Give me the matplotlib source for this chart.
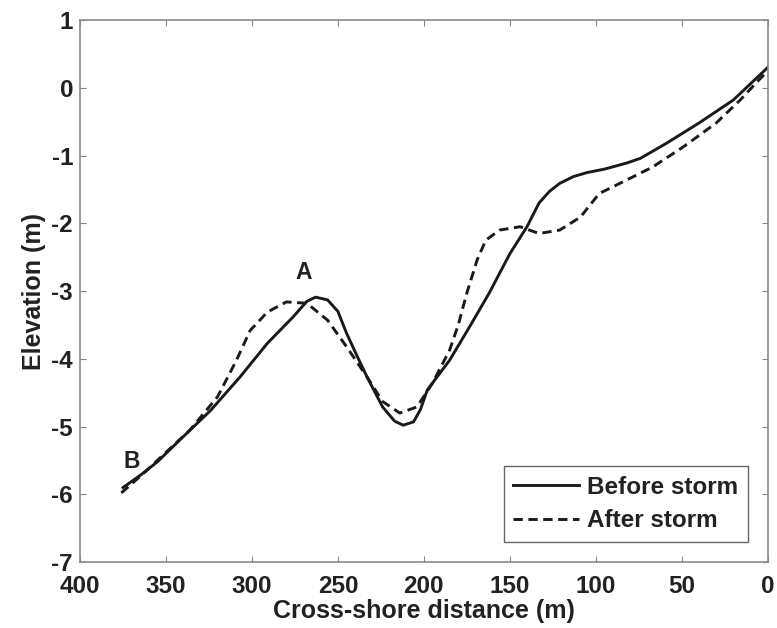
import numpy as np
import matplotlib
matplotlib.use('Agg')
import matplotlib.pyplot as plt

plt.rcParams['font.family'] = ['Liberation Sans', 'DejaVu Sans']
plt.rcParams['font.weight'] = 'bold'
plt.rcParams['axes.unicode_minus'] = False

# profile before the storm (distance m, elevation m)
before_x = [375, 365, 355, 340, 324, 307, 291, 276, 268, 263, 256, 250, 245, 239, 233, 224,
            217, 212, 206, 202, 198, 185, 173, 162, 150, 140, 133, 127, 121, 113, 105, 95,
            82, 74, 59, 40, 20, 0]
before_z = [-5.90, -5.72, -5.52, -5.15, -4.76, -4.27, -3.77, -3.38, -3.15, -3.09, -3.13, -3.30,
            -3.62, -3.95, -4.27, -4.71, -4.92, -4.98, -4.93, -4.75, -4.46, -4.02, -3.51, -3.03,
            -2.45, -2.05, -1.70, -1.53, -1.41, -1.31, -1.25, -1.20, -1.11, -1.04, -0.82, -0.52,
            -0.18, 0.30]

# profile after the storm
after_x = [376, 363, 350, 336, 320, 309, 301, 291, 280, 268, 256, 245, 233, 224, 214, 204,
           195, 185, 180, 175, 169, 164, 156, 144, 133, 121, 109, 98, 82, 67, 49, 30, 16, 5, 0]
after_z = [-5.98, -5.69, -5.38, -5.05, -4.56, -4.02, -3.58, -3.31, -3.16, -3.18, -3.43, -3.82,
           -4.27, -4.63, -4.80, -4.71, -4.36, -3.87, -3.50, -3.03, -2.54, -2.25, -2.10, -2.05,
           -2.15, -2.10, -1.91, -1.56, -1.36, -1.17, -0.87, -0.52, -0.18, 0.12, 0.25]

point_labels = ['A', 'B']
point_x = [270, 370]
point_z = [-2.72, -5.51]

fig = plt.figure(figsize=(7.77, 6.28), dpi=100)
ax = fig.add_axes([0.103, 0.105, 0.885, 0.863])

ax.plot(before_x, before_z, color='#1a1a1a', lw=2.1, label='Before storm')
ax.plot(after_x, after_z, color='#1a1a1a', lw=2.1, ls=(0, (3.2, 1.9)), label='After storm')

for lab, px, pz in zip(point_labels, point_x, point_z):
    ax.text(px, pz, lab, fontsize=16.5, fontweight='bold', ha='center', va='center', color='#222222')

ax.set_xlim(400, 0)
ax.set_ylim(-7, 1)
ax.set_xticks(np.arange(400, -1, -50))
ax.set_yticks(np.arange(-7, 2, 1))
ax.tick_params(direction='in', top=True, right=True, length=4, width=0.8,
               color='#888888', labelsize=17.5, labelcolor='#222222')
ax.tick_params(axis='x', pad=9)
ax.tick_params(axis='y', pad=5)
for lbl in ax.get_xticklabels() + ax.get_yticklabels():
    lbl.set_fontweight('bold')
for sp in ax.spines.values():
    sp.set_color('#8a8a8a')
    sp.set_linewidth(1.2)

ax.set_xlabel('Cross-shore distance (m)', fontsize=18, fontweight='bold', labelpad=1, color='#222222')
ax.set_ylabel('Elevation (m)', fontsize=18, fontweight='bold', labelpad=4, color='#222222')

leg = ax.legend(loc='lower right', fontsize=17.5, handlelength=2.7, fancybox=False,
                edgecolor='#666666', framealpha=1, borderaxespad=0.82,
                handletextpad=0.33, labelspacing=0.43, borderpad=0.4)
leg.get_frame().set_linewidth(1.0)
for t in leg.get_texts():
    t.set_fontweight('bold')
    t.set_color('#222222')

fig.savefig('out.png', dpi=100)
